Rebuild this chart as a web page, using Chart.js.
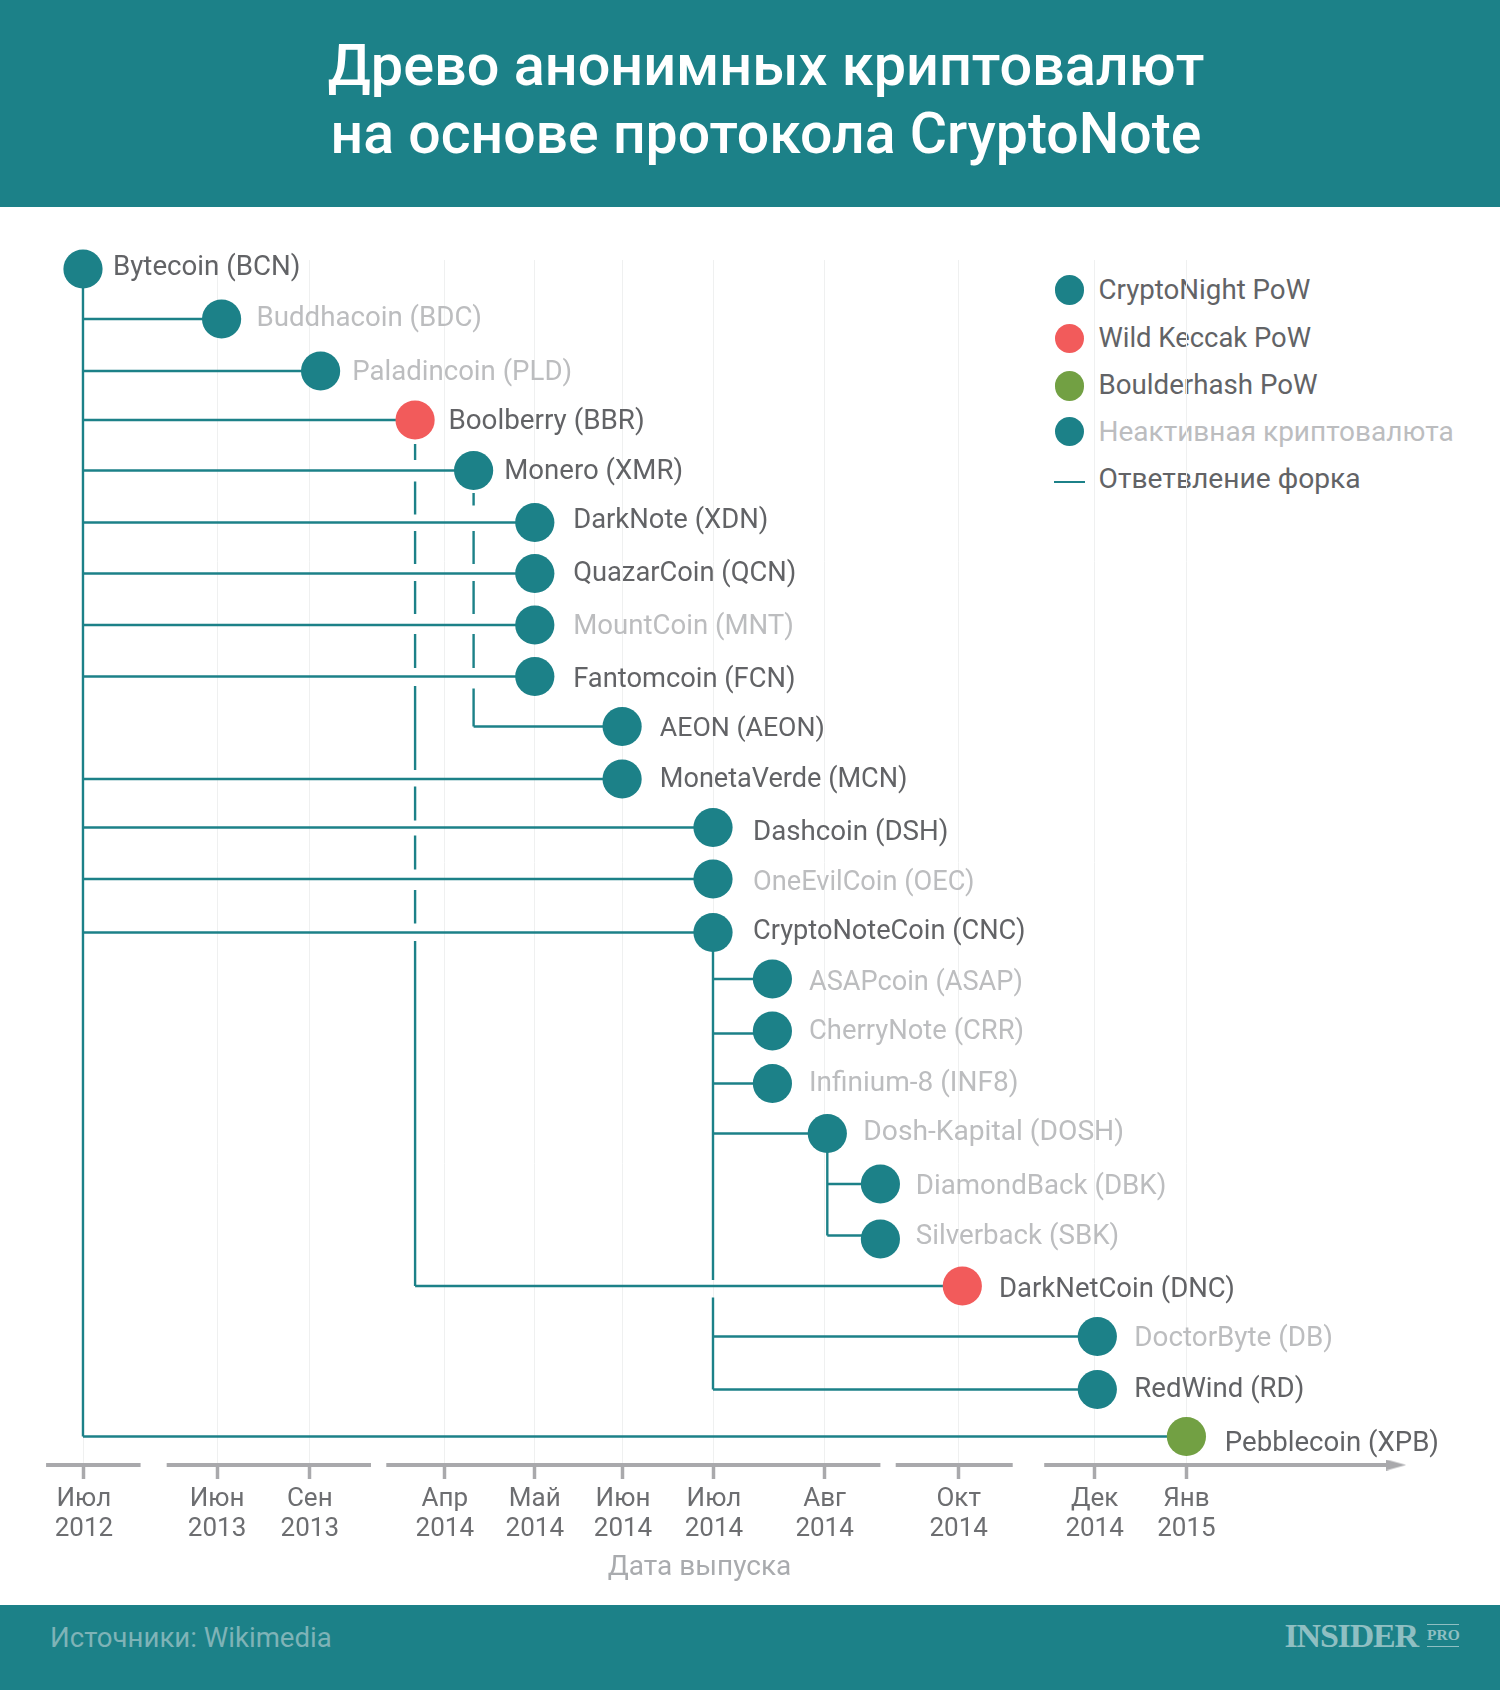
<!DOCTYPE html>
<html lang="ru">
<head>
<meta charset="utf-8">
<title>Древо анонимных криптовалют</title>
<script src="https://cdn.jsdelivr.net/npm/chart.js@4"></script>
<style>
html,body{margin:0;padding:0;background:#fff;width:1500px;height:1690px;overflow:hidden;font-family:Roboto,sans-serif}
.band{position:absolute;left:0;width:1500px;background:#1c8188}
#head{top:0;height:207px}
#foot{top:1605px;height:85px}
.t{position:absolute;white-space:nowrap}
.title{left:0;width:1532px;text-align:center;color:#fff;font-size:57.6px;font-weight:500;line-height:68px}
#legend .t{font-size:27.7px;line-height:30px;left:1098.5px;color:#626366}
#legend .dot{position:absolute;left:1055px;width:29.4px;height:29.4px;border-radius:50%}
#legend .dash{position:absolute;left:1054px;width:31px;height:2.4px;background:#1c8188}
#src{left:50px;top:1623px;font-size:27.6px;line-height:30px;color:#7fb3b7}
#ins{left:1284.5px;top:1616px;font-family:"Liberation Serif",serif;font-weight:700;font-size:34px;line-height:39px;color:#8fbfc2;letter-spacing:-1.2px}
#pro{left:1427px;top:1626px;font-family:"Liberation Serif",serif;font-weight:700;font-size:15.5px;line-height:18px;color:#8fbfc2;width:32px;text-align:center}
.rule{position:absolute;left:1427px;width:32px;height:1.5px;background:#8fbfc2}
canvas{position:absolute;left:0;top:0}
</style>
</head>
<body>
<div class="band" id="head"></div>
<div class="band" id="foot"></div>
<div class="t title" style="top:31.7px">Древо анонимных криптовалют</div>
<div class="t title" style="top:99.7px;font-size:57.2px">на основе протокола CryptoNote</div>
<div id="legend"></div>
<div class="t" id="src">Источники: Wikimedia</div>
<div class="t" id="ins">INSIDER</div>
<div class="rule" style="top:1623.5px"></div>
<div class="t" id="pro">PRO</div>
<div class="rule" style="top:1645.5px"></div>
<canvas id="c" width="1500" height="1690"></canvas>
<script>
// ---- data (x: position along the broken time axis, y: row) ----
const coinNames = ["Bytecoin (BCN)","Buddhacoin (BDC)","Paladincoin (PLD)","Boolberry (BBR)","Monero (XMR)","DarkNote (XDN)","QuazarCoin (QCN)","MountCoin (MNT)","Fantomcoin (FCN)","AEON (AEON)","MonetaVerde (MCN)","Dashcoin (DSH)","OneEvilCoin (OEC)","CryptoNoteCoin (CNC)","ASAPcoin (ASAP)","CherryNote (CRR)","Infinium-8 (INF8)","Dosh-Kapital (DOSH)","DiamondBack (DBK)","Silverback (SBK)","DarkNetCoin (DNC)","DoctorByte (DB)","RedWind (RD)","Pebblecoin (XPB)"];
const coinX = [0,1.54,2.64,3.69,4.34,5.02,5.02,5.02,5.02,5.99,5.99,7,7,7,7.66,7.66,7.66,8.27,8.86,8.86,9.77,11.27,11.27,12.26];
const coinY = [0,1.0,2.04,3.02,4.03,5.07,6.09,7.12,8.15,9.15,10.2,11.17,12.2,13.27,14.2,15.24,16.29,17.29,18.3,19.4,20.34,21.35,22.41,23.35];
const linkY = [null,1.0,2.04,3.02,4.03,5.07,6.09,7.12,8.15,9.15,10.2,11.17,12.2,13.27,14.2,15.29,16.29,17.29,18.3,19.33,20.34,21.35,22.41,23.35];
const parentOf = [null,0,0,0,0,0,0,0,0,4,0,0,0,0,13,13,13,13,17,17,3,13,13,0];
const algo = ["cn","cn","cn","wk","cn","cn","cn","cn","cn","cn","cn","cn","cn","cn","cn","cn","cn","cn","cn","cn","wk","cn","cn","bh"];
const inactive = [0,1,1,0,0,0,0,1,0,0,0,0,1,0,1,1,1,1,1,1,0,1,0,0];
const tickPos = [0.01,1.49,2.52,4.02,5.02,6,7.01,8.24,9.73,11.24,12.26];
const tickLabels = [["Июл","2012"],["Июн","2013"],["Сен","2013"],["Апр","2014"],["Май","2014"],["Июн","2014"],["Июл","2014"],["Авг","2014"],["Окт","2014"],["Дек","2014"],["Янв","2015"]];
const axisTitle = "Дата выпуска";
// trunks: x taken from the parent coin, [from,to] row spans broken at crossings
const trunks = [
 {coin:0, spans:[[0,23.35]]},
 {coin:3, spans:[[3.5,3.82],[4.25,4.91],[5.24,5.9],[6.24,6.9],[7.3,7.98],[8.34,10.02],[10.35,11.03],[11.33,12.01],[12.42,13.09],[13.44,20.34]]},
 {coin:4, spans:[[4.48,4.73],[5.24,5.9],[6.24,6.9],[7.3,7.98],[8.39,9.15]]},
 {coin:13,spans:[[13.27,20.22],[20.57,22.41]]},
 {coin:17,spans:[[17.29,19.33]]}
];
const axisSpans = [[-0.41,0.64],[0.93,3.2],[3.37,8.86],[9.03,10.33],[10.68,14.48]];
const arrowAt = [14.59];
const legendItems = [["CryptoNight PoW","cn",0],["Wild Keccak PoW","wk",0],["Boulderhash PoW","bh",0],["Неактивная криптовалюта","cn",1],["Ответвление форка",null,0]];
// ---- layout / style ----
const labelDx = [30,34.8,31.6,33.3,30.6,38.4,38.4,38.4,38.4,37.7,37.7,40,40,40,36.6,36.6,36.6,36,35.4,35.4,36.7,37,37,38.4];
const labelDy = [-4,-2.9,-.6,-.8,-1.5,-4.6,-2.2,-1,.4,-.4,-2,2.3,1.2,-3.8,.5,-2,-2.9,-4,.3,-5,.6,-.4,-2.4,4.1];
const labelSize = [27.7,27.7,27.6,27.8,27.6,27.4,27.3,27.6,27.3,26.7,27.1,27.7,27.2,27.2,27.15,27.4,28,28.2,27.7,27.7,27.5,27.8,27.55,27.6];
const TEAL="#1c8188", colors={cn:TEAL,wk:"#f25b5b",bh:"#72a043"};
const INK="#626366", FADED="#bcbdbf";
const X_MIN=-0.922,X_MAX=14.622,Y_MIN=-0.18,Y_MAX=23.92;

const legendEl=document.getElementById('legend');
const legendDotY=[275.3,323.6,371.3,416.6], legendTextY=[274.8,322.7,370,416.9,464.3];
legendItems.forEach((it,i)=>{
  const t=document.createElement('div');t.className='t';t.textContent=it[0];t.style.top=legendTextY[i]+'px';
  if(it[2]){t.style.color=FADED;t.style.fontSize='28px';}
  if(i===1)t.style.fontSize='27.4px';
  if(i===4)t.style.fontSize='28.2px';
  legendEl.appendChild(t);
  const m=document.createElement('div');
  if(it[1]){m.className='dot';m.style.top=legendDotY[i]+'px';m.style.background=colors[it[1]];}
  else{m.className='dash';m.style.top='480.5px';}
  legendEl.appendChild(m);
});

const lineDs=(data,extra)=>Object.assign({type:'line',data,borderColor:TEAL,borderWidth:2.4,pointRadius:0,tension:0,fill:false,clip:false,order:2,borderCapStyle:'butt',borderJoinStyle:'miter'},extra||{});
const datasets=[];
datasets.push({type:'scatter',data:coinX.map((x,i)=>({x,y:coinY[i]})),backgroundColor:algo.map(a=>colors[a]),pointRadius:19.6,borderWidth:0,clip:false,order:1});
coinX.forEach((x,i)=>{ if(parentOf[i]===null)return;
  datasets.push(lineDs([{x:coinX[parentOf[i]],y:linkY[i]},{x,y:linkY[i]}]));});
trunks.forEach(tr=>tr.spans.forEach(s=>datasets.push(lineDs(s.map(y=>({x:coinX[tr.coin],y}))))));
const GREY="#a9a9ac";
axisSpans.forEach(s=>datasets.push(lineDs(s.map(x=>({x,y:Y_MAX})),{borderColor:GREY,borderWidth:4})));
const arrowImg=document.createElement('canvas');arrowImg.width=20;arrowImg.height=11;
(()=>{const a=arrowImg.getContext('2d');a.fillStyle=GREY;a.beginPath();a.moveTo(0,0);a.lineTo(20,5.5);a.lineTo(0,11);a.closePath();a.fill();})();
datasets.push({type:'scatter',data:arrowAt.map(x=>({x,y:Y_MAX})),pointStyle:arrowImg,clip:false,order:3});

const labelsPlugin={id:'coinLabels',afterDatasetsDraw(ch){
  const {ctx,scales:{x,y}}=ch;ctx.save();ctx.textBaseline='alphabetic';ctx.textAlign='left';
  coinNames.forEach((n,i)=>{ctx.font=labelSize[i]+'px Roboto';ctx.fillStyle=inactive[i]?FADED:INK;
    ctx.fillText(n,x.getPixelForValue(coinX[i])+labelDx[i],y.getPixelForValue(coinY[i])+labelDy[i]+10);});
  ctx.restore();}};

new Chart(document.getElementById('c'),{
  data:{datasets},
  plugins:[labelsPlugin],
  options:{responsive:false,animation:false,events:[],
    layout:{autoPadding:false,padding:{left:0,right:101,top:260,bottom:0}},
    plugins:{legend:{display:false},tooltip:{enabled:false},title:{display:false}},
    scales:{
      x:{type:'linear',position:'bottom',min:X_MIN,max:X_MAX,
        afterBuildTicks:s=>{s.ticks=tickPos.map(value=>({value}));},
        afterFit:s=>{s.height=225;s.paddingLeft=0;s.paddingRight=0;},
        border:{display:false},
        grid:{color:"#eff0f0",lineWidth:1,tickColor:GREY,tickWidth:3.5,tickLength:14},
        ticks:{autoSkip:false,maxRotation:0,minRotation:0,padding:6,color:"#6d6e71",font:{family:'Roboto',size:26,lineHeight:1.15},
          callback:(v,i)=>tickLabels[i]},
        title:{display:true,text:axisTitle,color:"#a9abae",font:{family:'Roboto',size:28,lineHeight:1.2},padding:{top:0,bottom:105}}
      },
      y:{type:'linear',reverse:true,min:Y_MIN,max:Y_MAX,display:false}
    }
  }
});
</script>
</body>
</html>
